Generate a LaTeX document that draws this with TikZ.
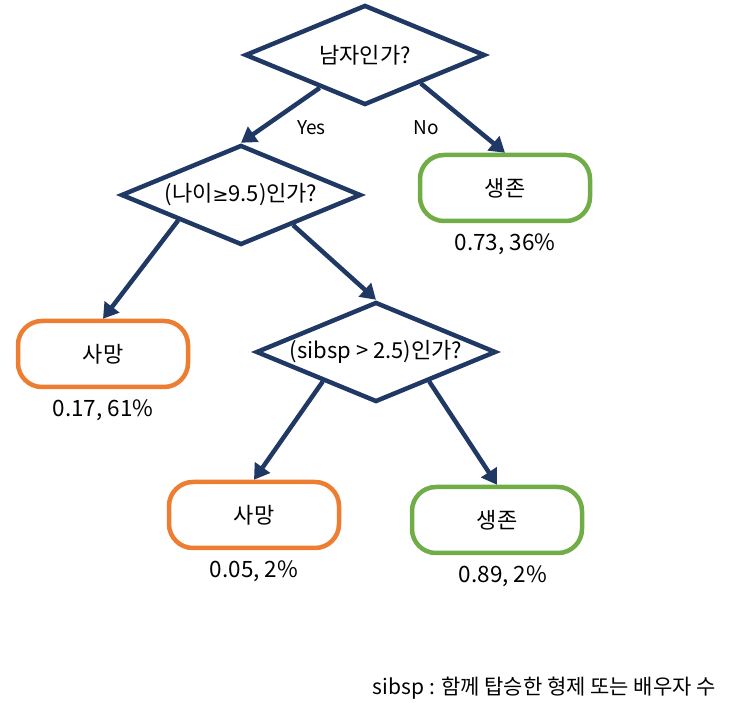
\documentclass[tikz,border=0pt]{standalone}
\usepackage{fontspec}
\setmainfont{Noto Sans CJK KR}
\newfontfamily\symfont{DejaVu Sans}
\usetikzlibrary{shapes.geometric,positioning,arrows.meta}

\definecolor{navy}{RGB}{32,56,100}
\definecolor{dieorange}{RGB}{237,125,49}
\definecolor{survgreen}{RGB}{112,173,71}

\begin{document}
\begin{tikzpicture}[x=1pt,y=-1pt,
    question/.style={diamond,draw=navy,line width=4.5pt,
		minimum width=240pt,minimum height=100pt,inner sep=0pt},
    qtext/.style={font=\fontsize{22}{26}\selectfont,inner sep=0pt},
    leaf/.style={rectangle,rounded corners=24pt,line width=4.5pt,
		minimum width=170pt,minimum height=66pt,font=\fontsize{22}{26}\selectfont},
    die/.style={leaf,draw=dieorange},
    surv/.style={leaf,draw=survgreen},
    rate/.style={font=\fontsize{22.5}{26}\selectfont,inner sep=0pt},
    branch/.style={font=\fontsize{19}{22}\selectfont},
% arrow style
    link/.style={draw=navy,line width=4.5pt,
		-{Triangle[length=15pt,width=18pt]}}
    ]
\useasboundingbox (0,0) rectangle (740,711);

\node [question,label={[qtext]center:남자인가?}] (root) at (365,55) {};
\node [question,label={[qtext]center:(나이{\symfont\fontsize{19}{22}\selectfont ≥}9.5)인가?}] (age) at (241,195) {};
\node [surv] (surv1) at (505,188) {생존};
\node [rate,below=10pt of surv1] (surv1val) {0.73, 36\%};
\node [die] (die1) at (103,354) {사망};
\node [rate,below=10pt of die1] (die1val) {0.17, 61\%};
\node [question,label={[qtext]center:(sibsp > 2.5)인가?}] (sib) at (376,352) {};
\node [die] (die2) at (254,515) {사망};
\node [rate,below=10pt of die2] (die2val) {0.05, 2\%};
\node [surv] (surv2) at (497,520) {생존};
\node [rate,below=10pt of surv2,xshift=6pt] (surv2val) {0.89, 2\%};

\draw [link] (root.216) -- (age.north)
node [branch,midway,xshift=31pt,yshift=-12pt] (yes) {Yes};
\draw [link] (root.-27) -- (surv1.north)
node [branch,midway,xshift=-37pt,yshift=-10pt] (no) {No};
\draw [link] (age.202) -- (die1.north);
\draw [link] (age.-30) -- (sib.north);
\draw [link] (sib.-151) -- (die2.north);
\draw [link] (sib.-29) -- (surv2.north);

\node [font=\fontsize{21}{25}\selectfont,inner sep=0pt,anchor=east] (note) at (716,688) {sibsp : 함께 탑승한 형제 또는 배우자 수};
\end{tikzpicture}
\end{document}
